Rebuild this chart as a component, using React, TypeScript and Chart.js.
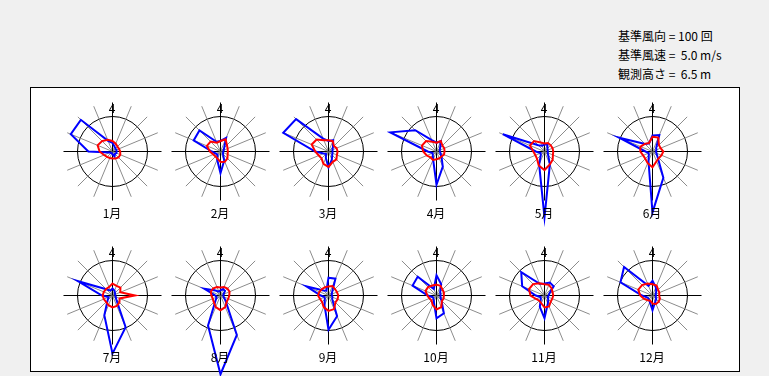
import React, { useEffect, useRef } from "react";
import { Chart, registerables } from "chart.js";

Chart.register(...registerables);

// ---- data -------------------------------------------------------------
const DIRECTIONS = ["N", "NNE", "NE", "ENE", "E", "ESE", "SE", "SSE", "S", "SSW", "SW", "WSW", "W", "WNW", "NW", "NNW"];
const MONTHS = ["1月", "2月", "3月", "4月", "5月", "6月", "7月", "8月", "9月", "10月", "11月", "12月"];
const NORTH_LABEL = "4";

const REF_FREQ = 100; // 基準風向 (回)
const REF_SPEED = 5.0; // 基準風速 (m/s)
const HEIGHT_M = 6.5; // 観測高さ (m)
const AXIS_MAX = 140;

// wind direction frequency (counts), N clockwise
const freqJan = [25, 15, 12, 12, 12, 12, 10, 15, 8, 5, 6, 8, 69, 129, 128, 33];
const freqFeb = [30, 42, 15, 10, 8, 8, 10, 28, 62, 25, 12, 15, 25, 83, 85, 30];
const freqMar = [30, 35, 18, 12, 12, 12, 15, 25, 45, 20, 10, 15, 38, 140, 131, 40];
const freqApr = [25, 32, 15, 10, 10, 12, 20, 47, 95, 25, 15, 12, 25, 143, 86, 35];
const freqMay = [20, 22, 12, 10, 10, 10, 15, 40, 188, 40, 15, 12, 25, 129, 25, 18];
const freqJun = [46, 51, 15, 12, 10, 12, 20, 81, 174, 30, 15, 12, 20, 103, 30, 25];
const freqJul = [20, 15, 10, 8, 8, 10, 15, 98, 166, 61, 20, 12, 30, 107, 25, 15];
const freqAug = [15, 20, 18, 10, 8, 10, 20, 122, 225, 93, 20, 12, 15, 50, 20, 12];
const freqSep = [51, 52, 15, 10, 10, 12, 15, 64, 98, 30, 15, 12, 22, 68, 20, 15];
const freqOct = [58, 35, 15, 12, 12, 12, 20, 55, 65, 20, 12, 12, 25, 74, 76, 20];
const freqNov = [34, 40, 37, 15, 12, 10, 15, 25, 65, 35, 15, 12, 25, 69, 94, 36];
const freqDec = [42, 25, 15, 10, 10, 10, 15, 20, 42, 20, 15, 15, 30, 99, 115, 30];

// mean wind speed (m/s), N clockwise
const speedJan = [1.5, 1.2, 1.0, 1.0, 1.1, 1.2, 1.2, 1.1, 1.0, 1.0, 1.1, 1.3, 1.85, 2.3, 2.1, 1.8];
const speedFeb = [1.5, 1.9, 1.3, 1.1, 1.05, 1.1, 1.4, 1.6, 1.5, 1.1, 1.0, 1.1, 1.5, 2.1, 2.0, 1.35];
const speedMar = [1.6, 1.6, 1.1, 1.25, 1.3, 1.3, 1.6, 1.6, 2.2, 1.9, 1.4, 1.5, 1.9, 2.6, 2.4, 1.75];
const speedApr = [1.25, 1.6, 1.2, 1.2, 1.15, 1.15, 1.0, 1.05, 1.1, 1.3, 1.2, 1.5, 1.9, 2.25, 2.1, 1.5];
const speedMay = [1.15, 1.3, 1.25, 1.25, 1.25, 1.3, 1.65, 2.0, 2.65, 2.15, 1.5, 1.4, 1.6, 2.25, 2.1, 1.4];
const speedJun = [2.1, 2.15, 1.3, 1.25, 1.55, 1.4, 1.3, 1.5, 2.25, 1.8, 1.45, 1.45, 1.75, 1.85, 1.55, 1.3];
const speedJul = [1.7, 1.5, 1.6, 1.2, 3.2, 1.1, 1.4, 1.6, 1.7, 1.5, 1.3, 1.35, 1.4, 1.35, 1.3, 1.3];
const speedAug = [1.15, 1.3, 1.4, 1.4, 1.25, 1.2, 1.25, 1.8, 2.1, 1.8, 1.35, 1.2, 1.3, 1.5, 1.45, 1.3];
const speedSep = [1.3, 1.45, 1.3, 1.3, 1.4, 1.4, 1.4, 2.1, 2.2, 1.8, 1.3, 1.3, 1.5, 1.4, 1.3, 1.3];
const speedOct = [1.55, 1.5, 1.2, 1.15, 1.05, 1.1, 1.1, 1.8, 2.0, 1.45, 1.0, 1.1, 1.3, 1.7, 1.7, 1.55];
const speedNov = [1.6, 1.65, 1.45, 1.25, 1.25, 1.2, 1.25, 1.7, 1.7, 1.2, 1.05, 1.3, 2.0, 2.4, 2.3, 1.9];
const speedDec = [1.6, 1.55, 1.15, 1.05, 0.95, 1.15, 1.25, 1.3, 1.15, 0.8, 0.95, 1.3, 1.75, 2.2, 2.1, 1.85];

const FREQS = [freqJan, freqFeb, freqMar, freqApr, freqMay, freqJun, freqJul, freqAug, freqSep, freqOct, freqNov, freqDec];
const SPEEDS = [speedJan, speedFeb, speedMar, speedApr, speedMay, speedJun, speedJul, speedAug, speedSep, speedOct, speedNov, speedDec];

// ---- layout -----------------------------------------------------------
const COL_X = [112, 220, 328, 436, 544, 652];
const ROW_Y = [151, 295];
const CANVAS = 240;
const RADIUS = 49;
const FONT = '"Noto Sans CJK JP", "Noto Sans", sans-serif';

const crispPlugin = {
  id: "crisp",
  beforeDraw(chart: any) {
    chart.ctx.save();
    chart.ctx.translate(0.5, 0.5);
  },
  afterDraw(chart: any) {
    chart.ctx.restore();
  },
};

function Rose({ freq, speed, label, cx, cy }: { freq: number[]; speed: number[]; label: string; cx: number; cy: number }) {
  const ref = useRef<HTMLCanvasElement | null>(null);
  useEffect(() => {
    if (!ref.current) return;
    const factor = REF_FREQ / REF_SPEED;
    const chart = new Chart(ref.current, {
      type: "radar",
      data: {
        labels: DIRECTIONS,
        datasets: [
          {
            label: "風速",
            data: speed.map((v) => v * factor),
            borderColor: "#ff0000",
            borderWidth: 2,
            backgroundColor: "rgba(0,0,0,0)",
            fill: false,
            pointRadius: 0,
            tension: 0,
            clip: false,
          } as any,
          {
            label: "風向",
            data: freq,
            borderColor: "#0000ff",
            borderWidth: 2,
            backgroundColor: "rgba(0,0,0,0)",
            fill: false,
            pointRadius: 0,
            tension: 0,
            clip: false,
          } as any,
        ],
      },
      options: {
        responsive: false,
        maintainAspectRatio: false,
        devicePixelRatio: 1,
        animation: false,
        events: [],
        layout: { padding: (CANVAS - 2 * RADIUS) / 2 },
        plugins: { legend: { display: false }, tooltip: { enabled: false }, title: { display: false } },
        scales: {
          r: {
            min: 0,
            max: AXIS_MAX,
            ticks: { display: false, stepSize: REF_FREQ },
            pointLabels: { display: false },
            grid: {
              circular: true,
              lineWidth: 1,
              color: (ctx: any) => (ctx.tick && ctx.tick.value === REF_FREQ ? "#000000" : "rgba(0,0,0,0)"),
            },
            angleLines: {
              display: true,
              lineWidth: 1,
              color: (ctx: any) => (ctx.index % 4 === 0 ? "#000000" : "#8c8c8c"),
            },
          },
        },
      } as any,
      plugins: [crispPlugin],
    });
    return () => chart.destroy();
  }, [freq, speed]);

  const textStyle: React.CSSProperties = {
    position: "absolute",
    width: 60,
    left: cx - 30,
    textAlign: "center",
    fontFamily: FONT,
    fontSize: 12,
    lineHeight: "14px",
    color: "#000",
    whiteSpace: "pre",
  };

  return (
    <>
      <canvas
        ref={ref}
        width={CANVAS}
        height={CANVAS}
        style={{ position: "absolute", left: cx - CANVAS / 2, top: cy - CANVAS / 2, width: CANVAS, height: CANVAS }}
      />
      <div style={{ ...textStyle, top: cy - 50 }}>{NORTH_LABEL}</div>
      <div style={{ ...textStyle, top: cy + 55 }}>{label}</div>
    </>
  );
}

export default function App() {
  const legend = [
    `基準風向 = ${REF_FREQ} 回`,
    `基準風速 =  ${REF_SPEED.toFixed(1)} m/s`,
    `観測高さ =  ${HEIGHT_M.toFixed(1)} m`,
  ];
  return (
    <div
      style={{
        position: "fixed",
        left: 0,
        top: 0,
        width: 769,
        height: 376,
        background: "#f0f0f0",
        overflow: "hidden",
      }}
    >
      {legend.map((t, i) => (
        <div
          key={i}
          style={{
            position: "absolute",
            left: 618,
            top: 26 + i * 19,
            fontFamily: FONT,
            fontSize: 12,
            lineHeight: "19px",
            whiteSpace: "pre",
            color: "#000",
          }}
        >
          {t}
        </div>
      ))}
      <div
        style={{
          position: "absolute",
          left: 30,
          top: 87,
          width: 708,
          height: 283,
          background: "#ffffff",
          border: "1px solid #000",
        }}
      />
      {MONTHS.map((m, i) => (
        <Rose
          key={m}
          freq={FREQS[i]}
          speed={SPEEDS[i]}
          label={m}
          cx={COL_X[i % 6]}
          cy={ROW_Y[Math.floor(i / 6)]}
        />
      ))}
    </div>
  );
}
